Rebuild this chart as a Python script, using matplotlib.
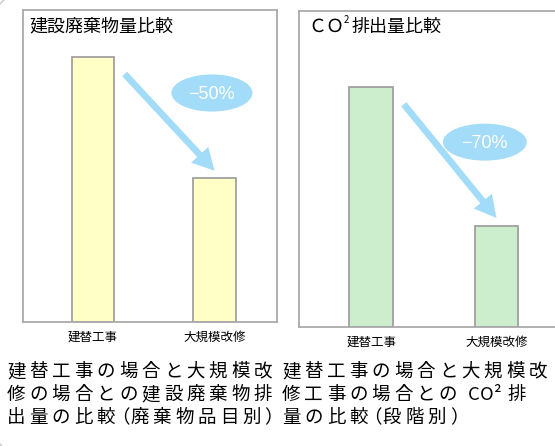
import matplotlib
matplotlib.use('Agg')
import matplotlib.pyplot as plt
from matplotlib.patches import Ellipse, Arc

plt.rcParams['font.family'] = ['Noto Sans CJK JP', 'DejaVu Sans']

# data
categories = ['建替工事', '大規模改修']
waste = [85, 46]          # 建設廃棄物量 (relative)
co2 = [76, 32]            # CO2排出量 (relative)
waste_label = '−50%'
co2_label = '−70%'

caption_left = ['建替工事の場合と大規模改',
                '修の場合との建設廃棄物排',
                '出量の比較（廃棄物品目別）']
caption_right = ['建替工事の場合と大規模改',
                 '修工事の場合との CO² 排',
                 '量の比較（段階別）']

W, H = 555, 446
fig = plt.figure(figsize=(W / 100, H / 100), dpi=100)

ax1 = fig.add_axes([23 / W, 1 - 322 / H, 254 / W, 312 / H])
ax2 = fig.add_axes([299 / W, 1 - 327 / H, 262 / W, 316 / H])

# transparent overlay in image pixels (top-left origin) for frame and free text
bg = fig.add_axes([0, 0, 1, 1])
bg.set_xlim(0, W)
bg.set_ylim(H, 0)
bg.axis('off')
bg.patch.set_alpha(0)

# faint rounded corners of an outer frame (only small pieces reach into the image)
bg.add_patch(Arc((16, 16), 40, 40, theta1=180, theta2=270,
                 edgecolor='#D0D0D0', lw=1.2, clip_on=False))
bg.add_patch(Arc((16, 432), 40, 40, theta1=90, theta2=180,
                 edgecolor='#D0D0D0', lw=1.2, clip_on=False))

arrow_color = '#A2DCF8'


def draw_panel(ax, vals, fill):
    x = list(range(len(vals)))
    ax.bar(x, vals, width=0.35, color=fill, edgecolor='#9A9A9A', linewidth=1.2)
    ax.set_xlim(-0.577, 1.515)
    ax.set_ylim(0, 100)
    ax.set_xticks(x, categories, fontsize=9)
    ax.tick_params(axis='x', length=0, pad=6.5)
    ax.set_yticks([])
    for s in ax.spines.values():
        s.set_color('#AAAAAA')
        s.set_linewidth(1.3)
    # arrow from first bar down to second
    start = (x[0] + 0.26, vals[0] - 5.5)
    end = (x[1] + 0.0, vals[1] + 2.5)
    ax.annotate('', xy=end, xytext=start,
                arrowprops=dict(arrowstyle='simple,head_length=1.3,head_width=1.4,tail_width=0.4',
                                color=arrow_color, lw=0, mutation_scale=12,
                                shrinkA=0, shrinkB=0))


draw_panel(ax1, waste, '#FFFFC6')
draw_panel(ax2, co2, '#CDEECD')

# ellipses with percentage
ax1.add_patch(Ellipse((0.979, 73.4), 0.667, 11.9, color=arrow_color, lw=0))
ax1.text(0.979, 72.8, waste_label, color='white', fontsize=13, ha='center', va='center',
         family='Liberation Sans')
ax2.add_patch(Ellipse((0.907, 58.5), 0.669, 11.7, color=arrow_color, lw=0))
ax2.text(0.907, 58.0, co2_label, color='white', fontsize=13, ha='center', va='center',
         family='Liberation Sans')

# panel titles
bg.text(29, 26, '建設廃棄物量比較', fontsize=13, va='center', ha='left')
bg.text(308, 27, 'ＣＯ', fontsize=13, va='center', ha='left')
bg.text(344, 20, '2', fontsize=7, va='center', ha='left')
bg.text(351, 27, '排出量比較', fontsize=13, va='center', ha='left')

# captions with wide letter spacing
pitch = 22.4
# advance widths for narrow / half-width characters, and drawing shift
advance = {' ': 7, 'C': 12, 'O': 13, '²': 7, '（': 11.2, '）': 11.2}
shift = {'（': -8}


def spaced_line(x0, y, s):
    x = x0
    for ch in s:
        if ch != ' ':
            bg.text(x + shift.get(ch, 0), y, ch, fontsize=13.3, va='center', ha='left')
        x += advance.get(ch, pitch)


line_y = [372, 395, 418]
for y, s in zip(line_y, caption_left):
    spaced_line(7, y, s)
for y, s in zip(line_y, caption_right):
    spaced_line(282, y, s)

fig.savefig('out.png', dpi=100)
